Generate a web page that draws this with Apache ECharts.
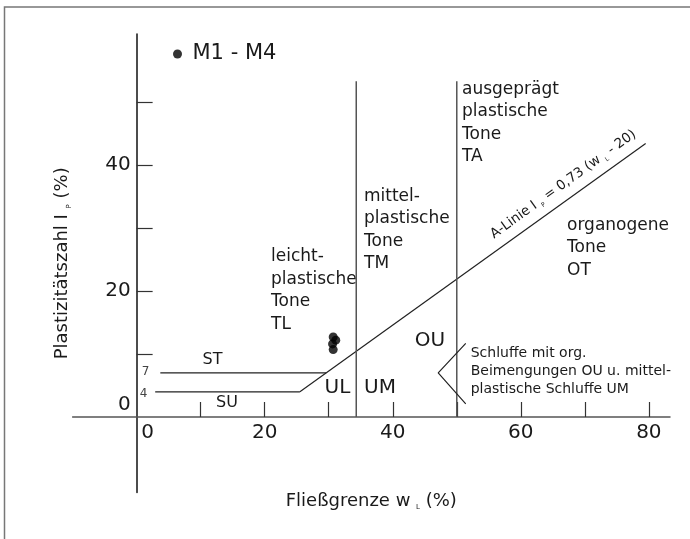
<!DOCTYPE html>
<html><head><meta charset="utf-8">
<script src="https://cdn.jsdelivr.net/npm/echarts@6/dist/echarts.min.js"></script>
<style>html,body{margin:0;padding:0;background:#fff}#c{width:690px;height:539px}</style>
</head><body><div id="c"></div>
<script>
// ---- data ----
const sampleName = 'M1 - M4';
const sampleWL = [30.7, 31.1, 30.6, 30.7];
const sampleIP = [12.7, 12.2, 11.6, 10.7];
const aLineWL = [25.5, 79.5];
const aLineIP = [4, 43.4];
const stLineWL = [3.7, 29.6];
const stLineIP = [7, 7];
const suLineWL = [2.9, 25.5];
const suLineIP = [4, 4];
const boundaryWL = [34.3, 50];
const boundaryIP = [0, 53.3];
const bracketWL = [51.4, 47.1, 51.4];
const bracketIP = [11.7, 7, 2.1];
const xTickValues = [10, 20, 30, 40, 50, 60, 70, 80];
const xLabelValues = [0, 20, 40, 60, 80];
const yTickValues = [10, 20, 30, 40, 50];
const yLabelValues = [0, 20, 40];
const xRange = [-10, 83.3];
const yRange = [-12, 60.8];

const FONT = 'DejaVu Sans';
const INK = '#1a1a1a';
const W = 690, H = 539;
const G = { left: 72.6, right: 20, top: 34, bottom: 46.4 };
// move the axes onto the zero lines (they cross at 0 / 0)
const yAxisOffset = -((0 - xRange[0]) / (xRange[1] - xRange[0])) * (W - G.left - G.right);
const xAxisOffset = -((0 - yRange[0]) / (yRange[1] - yRange[0])) * (H - G.top - G.bottom);

const zip = (a, b) => a.map((v, i) => [v, b[i]]);
const lineSeries = (data, color, width) => ({
  type: 'line', data, symbol: 'none', silent: true, animation: false,
  lineStyle: { color, width }, z: 2
});
const txt = (x, y, text, size, extra) => ({
  type: 'text', x, y, silent: true,
  style: Object.assign({ text, fontSize: size, fontFamily: FONT, fill: INK }, extra || {})
});
const nameRich = {
  a: { fontSize: 18, fontFamily: FONT, color: INK, lineHeight: 20 },
  s: { fontSize: 7, fontFamily: FONT, color: INK, lineHeight: 20, verticalAlign: 'bottom' }
};

const chart = echarts.init(document.getElementById('c'), null, { renderer: 'canvas' });
chart.setOption({
  backgroundColor: '#fff',
  animation: false,
  grid: Object.assign({ outerBoundsMode: 'none', containLabel: false }, G),
  legend: {
    data: [sampleName], left: 173, top: 43.5, padding: 0,
    icon: 'circle', itemWidth: 20, itemHeight: 9,
    textStyle: { fontSize: 21, fontFamily: FONT, color: INK },
    selectedMode: false
  },
  xAxis: {
    type: 'value', min: xRange[0], max: xRange[1], interval: 10,
    offset: xAxisOffset,
    axisLine: { onZero: false, lineStyle: { color: '#555', width: 1.5 } },
    axisTick: { show: true, inside: true, length: 15, customValues: xTickValues, lineStyle: { color: '#333', width: 1.2 } },
    axisLabel: {
      customValues: xLabelValues, fontSize: 20, fontFamily: FONT, color: INK, margin: 6,
      formatter: v => v === 0 ? '{z|0}' : String(v),
      rich: { z: { fontSize: 20, fontFamily: FONT, color: INK, padding: [0, 0, 0, 22] } }
    },
    splitLine: { show: false },
    name: '{a|Fließgrenze w }{s|L}{a| (%)}', nameLocation: 'middle', nameGap: 74,
    nameTextStyle: { rich: nameRich }
  },
  yAxis: {
    type: 'value', min: yRange[0], max: yRange[1], interval: 10,
    offset: yAxisOffset,
    axisLine: { onZero: false, lineStyle: { color: '#111', width: 1.5 } },
    axisTick: { show: true, inside: true, length: 16, customValues: yTickValues, lineStyle: { color: '#333', width: 1.2 } },
    axisLabel: {
      customValues: yLabelValues, fontSize: 20, fontFamily: FONT, color: INK, margin: 6,
      formatter: v => v === 0 ? '{z|0}' : String(v),
      rich: { z: { fontSize: 20, fontFamily: FONT, color: INK, padding: [0, 0, 24, 0] } }
    },
    splitLine: { show: false },
    name: '{a|Plastizitätszahl I }{s|P}{a| (%)}', nameLocation: 'middle', nameGap: 64, nameRotate: 90,
    nameTextStyle: { rich: nameRich }
  },
  series: [
    {
      name: sampleName, type: 'scatter', data: zip(sampleWL, sampleIP),
      symbol: 'circle', symbolSize: 9, itemStyle: { color: '#000' }, z: 5
    },
    lineSeries(zip(stLineWL, stLineIP), '#222', 1.2),
    lineSeries(zip(suLineWL, suLineIP), '#222', 1.2),
    lineSeries(zip(aLineWL, aLineIP), '#222', 1.2),
    ...boundaryWL.map(x => lineSeries(zip([x, x], boundaryIP), '#555', 1.5)),
    lineSeries(zip(bracketWL, bracketIP), '#222', 1.2)
  ],
  graphic: [
    { type: 'rect', silent: true, z: -10, shape: { x: 4.5, y: 7, width: 800, height: 700 },
      style: { fill: 'none', stroke: '#777', lineWidth: 1.5 } },
    txt(271, 245.75, 'leicht-\nplastische\nTone\nTL', 17, { lineHeight: 22.5, verticalAlign: 'top' }),
    txt(364, 185, 'mittel-\nplastische\nTone\nTM', 17, { lineHeight: 22.5, verticalAlign: 'top' }),
    txt(462, 78, 'ausgeprägt\nplastische\nTone\nTA', 17, { lineHeight: 22.5, verticalAlign: 'top' }),
    txt(567, 214, 'organogene\nTone\nOT', 17, { lineHeight: 22.5, verticalAlign: 'top' }),
    txt(430, 341, 'OU', 20, { align: 'center', verticalAlign: 'middle' }),
    txt(337.5, 388, 'UL', 20, { align: 'center', verticalAlign: 'middle' }),
    txt(380, 388, 'UM', 20, { align: 'center', verticalAlign: 'middle' }),
    txt(212.5, 360, 'ST', 16, { align: 'center', verticalAlign: 'middle' }),
    txt(227, 403, 'SU', 16, { align: 'center', verticalAlign: 'middle' }),
    txt(145.5, 372, '7', 12, { align: 'center', verticalAlign: 'middle', fill: '#444' }),
    txt(143.5, 394, '4', 12, { align: 'center', verticalAlign: 'middle', fill: '#444' }),
    txt(470.7, 344.3, 'Schluffe mit org.\nBeimengungen OU u. mittel-\nplastische Schluffe UM', 14, { lineHeight: 18, verticalAlign: 'top' }),
    {
      type: 'text', x: 568, y: 191, rotation: 35.7 * Math.PI / 180, silent: true,
      style: {
        text: '{a|A-Linie I }{s|P}{a| = 0,73 (w }{s|L}{a| - 20)}',
        align: 'center', verticalAlign: 'bottom',
        rich: {
          a: { fontSize: 13.5, fontFamily: FONT, fill: INK, lineHeight: 16 },
          s: { fontSize: 6, fontFamily: FONT, fill: INK, lineHeight: 16, verticalAlign: 'bottom' }
        }
      }
    }
  ]
});
</script></body></html>
